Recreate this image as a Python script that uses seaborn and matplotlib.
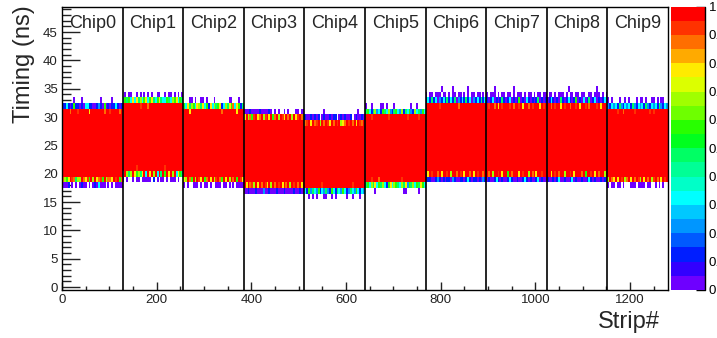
import numpy as np
import matplotlib
matplotlib.use("Agg")
import matplotlib.pyplot as plt
from matplotlib.colors import ListedColormap
import seaborn as sns

# ---- data ----
chip_names = ["Chip0", "Chip1", "Chip2", "Chip3", "Chip4",
              "Chip5", "Chip6", "Chip7", "Chip8", "Chip9"]
strips_per_chip = 128
n_timing_bins = 50

# timing bins (ns) that are saturated (red) for every strip of a chip
core_low = [20, 21, 20, 19, 18, 19, 21, 21, 21, 20]
core_high = [31, 32, 31, 29, 28, 30, 32, 32, 32, 31]

# fringe rows, one char per 4 strips: '.' empty, '0'..'9' colour code, 'r' full
top_edge = [
    "rrrr8rrr9rrrrr7rrrrrrr8rr9rrrr8r",
    "rrrrrrrrr9rrr8rrrrrrrrrrrrrrrrrr",
    "rrr7rrrrrrrrrrrrrrrr8rrrrrrr7rrr",
    "rrrrrrrrrrrrrrrrrrrrrrrrrrrrrrrr",
    "rrrrrrrrrrrrrrrrrrrrrrrrrrrrrrrr",
    "rrr9rrrrrrrr9rrrrrrrrr9rrrrr9rrr",
    "rrrrrrr9rrrrrrrrr8rrrrrrrrrrrrrr",
    "r9rr8r7r9rrr9r8rr9r7rr8r9rrr7r9r",
    "rr8r9rr7r9rr8rr9r7rr9r8rrr9r7rr8",
    "rrrrr9rr8rrrrr9rrrrrrr9r9rrrrrrr",
]
top_1 = [
    "11310151101033110012105010113101",
    "35453737463573574357433543657354",
    "53746537647351736457136475837514",
    "7r6859r78r69r7r58r6r97r8r6r79r85",
    "89r7r89r6r8r97r8r9r678r9r8r7r98r",
    "45314623154362145326143521634253",
    "13141302131413140213141302131413",
    "10130101410130101501031010140101",
    "01310104101310150103014013010130",
    "21323142132314213231421323142132",
]
top_2 = [
    "......0...0.........0.....0.....",
    ".0.00..0.0.0.0.0..00..0.00.0.0.0",
    "...00.0..00.0...0.......00...0..",
    "000100001000010.0.0..0.0...00.00",
    "10010101.01001011.0101001.010010",
    "0..0....00.0...0........0..0....",
    "0.00.000.00.0.00.00.0.0.00.00.0.",
    "0.000.0.00.00.0.000.0.00.0.00.00",
    ".00.0.000.0.00.00.00..00.000.0.0",
    "0.0...0..0.0...0.00.0..00.0.00..",
]
top_3 = [
    "................................",
    "................................",
    "................................",
    "................................",
    "..........0.................0...",
    "................................",
    "........0.....0.......0.........",
    "....0.........0.................",
    "...........0..............0.....",
    "................................",
]
bottom_edge = [
    "rrrrrrrrrrrrrrrrrrrrrrrrrrrrrrrr",
    "rrrrrrr9rrrrrrrrrrrrrr9rrrrrrrrr",
    "rrrrrrrrrrrrrrrrrrrrrrrrrrrrrrrr",
    "rrrrrrrrrrrrrrrrrrrrrrrrrrrrrrrr",
    "rrrrrrrrr9rrrrrrrrrrrrrrr9rrrrrr",
    "rrr9rrr8rrrrrrrrrrr9rrrrrrrrrrrr",
    "rrrrrrrrrrrrrrrrrrrrrrrrrrrrrrrr",
    "rrrrrrrrrrrrrrrrrrrrrrrrrrrrrrrr",
    "rrrrrrrrrrrrrrrrrrrrrrrrrrrrrrrr",
    "rrrrrrrrrrrrrrrrrrrrrrrrrrrrrrrr",
]
bottom_1 = [
    "8657r98466r8795r6r7895r6887r9r58",
    "3r646r75647r3r7r6r3r4r5r7r6r3754",
    "76r85r6r97r58r7r69r85r7r6r8r5r97",
    "r7r896r7r8r97r6r8r9r7r8r6r9r8r7r",
    "31524325132421531432531243253132",
    "45364735463157365436472546354753",
    "r7r9rr8r7rr9r6rr8r9r7rr8r7r9rr8r",
    "r8r6rr9r7rr5r8rrr7r9rr6r8r7rr9rr",
    "rr7r9r8rr6rr9r7rrr8r5rr9r7r8rr6r",
    "6r87r7r9r68r7r8r96r7r8r69r8r7r9r",
]
bottom_2 = [
    "0001.0.0.0100.0.0103000.0.0.0000",
    "0.0..0.00.00000.1.0.00.0.000.0..",
    "0.0..000.0.00.0..000.00.0.0.0000",
    "00100010002001000100010000100100",
    "..0.0.0...00..0.0.....0..0...0..",
    ".....0..............00......0...",
    "01100121010110210011013101101021",
    "01001310100131001001310100130100",
    "10010130010013010010013101001010",
    "0.00.00.0...000.0000.00..0.0.0..",
]

timing_ticks = [0, 5, 10, 15, 20, 25, 30, 35, 40, 45]
strip_ticks = [0, 200, 400, 600, 800, 1000, 1200]
z_ticks = [0, 0.1, 0.2, 0.3, 0.4, 0.5, 0.6, 0.7, 0.8, 0.9, 1]
z_tick_labels = ["0", "0.1", "0.2", "0.3", "0.4", "0.5", "0.6", "0.7", "0.8", "0.9", "1"]

# ROOT style 20 step rainbow palette
palette = ["#6e00ff", "#3200ff", "#001eff", "#005aff", "#0096ff",
           "#00c8ff", "#00ffff", "#00ffc8", "#00ff96", "#00ff64",
           "#00ff1e", "#28ff00", "#6eff00", "#a0ff00", "#dcff00",
           "#ffeb00", "#ffaa00", "#ff6e00", "#ff3200", "#ff0000"]
code_level = {"0": 0, "1": 2, "2": 4, "3": 6, "4": 9, "5": 11, "6": 13,
              "7": 15, "8": 17, "9": 18, "r": 19}


def decode(s, fill):
    s = s[:32].ljust(32, fill)
    vals = [np.nan if ch == "." else (code_level[ch] + 0.5) / 20 for ch in s]
    return np.repeat(vals, strips_per_chip // 32)


# build the 2D histogram (rows = timing bins, cols = strips)
grid = np.full((n_timing_bins, strips_per_chip * len(chip_names)), np.nan)
for c in range(len(chip_names)):
    sl = slice(c * strips_per_chip, (c + 1) * strips_per_chip)
    lo, hi = core_low[c], core_high[c]
    grid[lo:hi + 1, sl] = 1.0
    grid[hi, sl] = decode(top_edge[c], "r")
    grid[lo, sl] = decode(bottom_edge[c], "r")
    grid[hi + 1, sl] = decode(top_1[c], ".")
    grid[hi + 2, sl] = decode(top_2[c], ".")
    grid[hi + 3, sl] = decode(top_3[c], ".")
    grid[lo - 1, sl] = decode(bottom_1[c], ".")
    grid[lo - 2, sl] = decode(bottom_2[c], ".")

sns.set_style("white")
plt.rcParams["font.family"] = ["Liberation Sans", "DejaVu Sans"]

fig = plt.figure(figsize=(7.17, 3.38), dpi=100)
ax = fig.add_axes([62 / 717, 48 / 338, 606 / 717, 283.4 / 338])
cax = fig.add_axes([671 / 717, 48 / 338, 34 / 717, 283.4 / 338])

sns.heatmap(grid, cmap=ListedColormap(palette), vmin=0, vmax=1, ax=ax,
            cbar_ax=cax, xticklabels=False, yticklabels=False, linewidths=0)

ax.set_xlim(0, strips_per_chip * len(chip_names))
ax.set_ylim(0, n_timing_bins)
for s in ax.spines.values():
    s.set_visible(True)
    s.set_color("black")
    s.set_linewidth(1)

# ticks (timing bin t is drawn between t and t+1 -> centre at t+0.5)
ax.set_yticks([t + 0.5 for t in timing_ticks], labels=[str(t) for t in timing_ticks])
ax.set_yticks([t + 0.5 for t in range(n_timing_bins)], minor=True)
ax.set_xticks(strip_ticks, labels=[str(t) for t in strip_ticks])
ax.set_xticks(range(0, 1281, 50), minor=True)
ax.tick_params(axis="y", which="major", direction="in", length=13, width=1,
               labelsize=9.5, pad=3, left=True, colors="#222222", labelrotation=0)
ax.tick_params(axis="y", which="minor", direction="in", length=6.5, width=1,
               left=True, colors="#222222")
ax.tick_params(axis="x", which="major", direction="in", length=6, width=1,
               labelsize=9.5, pad=3, bottom=True, colors="#222222", labelrotation=0)
ax.tick_params(axis="x", which="minor", direction="in", length=3, width=1,
               bottom=True, colors="#222222")

# chip boundaries and names
for c in range(1, len(chip_names)):
    ax.axvline(c * strips_per_chip, color="black", lw=1.2)
for c, name in enumerate(chip_names):
    ax.text(c * strips_per_chip + strips_per_chip / 2, 46.15, name,
            ha="center", va="baseline", fontsize=13)

ax.set_ylabel("Timing (ns)", fontsize=17, loc="top")
ax.yaxis.set_label_coords(-0.045, 1.006)
ax.set_xlabel("Strip#", fontsize=17, loc="right")
ax.xaxis.set_label_coords(0.987, -0.075)

# colour scale
cbar = ax.collections[0].colorbar
cbar.set_ticks(z_ticks, labels=z_tick_labels)
cax.yaxis.set_ticks_position("right")
cax.tick_params(direction="in", length=6.5, width=1, labelsize=9.5, pad=2.5,
                colors="black")
cbar.outline.set_linewidth(0)
cax.plot([1, 1], [0, 1], transform=cax.transAxes, color="black", lw=1, clip_on=False)

fig.savefig("out.png", dpi=100)
